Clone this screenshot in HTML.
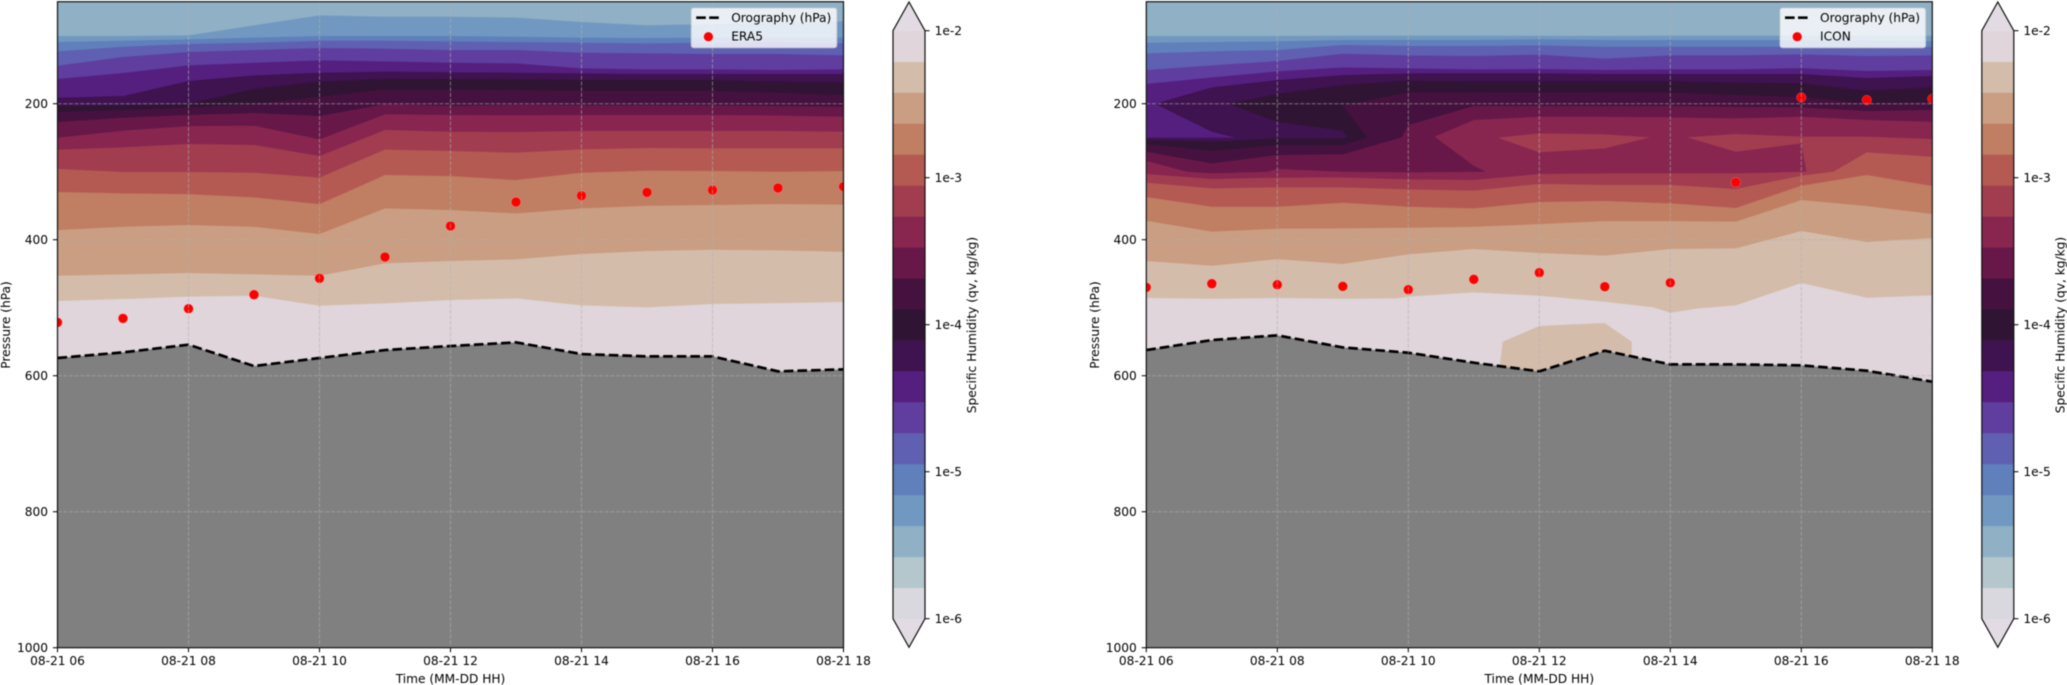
<!DOCTYPE html>
<html lang="en">
<head>
<meta charset="utf-8">
<title>Specific humidity cross-sections: ERA5 and ICON</title>
<style>
html,body{margin:0;padding:0;background:#fff;overflow:hidden;}
svg{display:block;font-family:"DejaVu Sans","Liberation Sans",sans-serif;filter:blur(0.45px);}
</style>
</head>
<body>
<svg id="figure" xmlns="http://www.w3.org/2000/svg" width="2067" height="685" viewBox="0 0 2067 685"></svg>
<script>
// ---------- shared chart values ----------
const xTickHours = [6, 8, 10, 12, 14, 16, 18];
const xTickLabels = ['08-21 06', '08-21 08', '08-21 10', '08-21 12', '08-21 14', '08-21 16', '08-21 18'];
const yTickValues = [200, 400, 600, 800, 1000];
const cbTickLabels = ['1e-6', '1e-5', '1e-4', '1e-3', '1e-2'];
const bandColors = ['#d9d8de', '#b3c7cd', '#8fb0c5', '#7198c0', '#5f80bb', '#5f60b2', '#5f3e9f', '#551f80', '#3f1250', '#2f1433', '#45113e', '#681848', '#88264f', '#a23d50', '#b45a52', '#c07e62', '#c99e82', '#d4bcab', '#dfd5da'];
const hours = [6, 7, 8, 9, 10, 11, 12, 13, 14, 15, 16, 17, 18];

// ---------- ERA5: pressure (hPa) of each contour boundary per hour, top of atmosphere downward ----------
const era5Boundary03 = [100.5, 100.5, 99.5, 84.8, 70.1, 72.1, 72.1, 73.5, 79.9, 84.8, 82.8, 80.9, 78.9];
const era5Boundary04 = [109.3, 107.4, 105.4, 102.9, 100.5, 100.5, 100.5, 101.5, 102.9, 103.4, 102.9, 102.9, 102.9];
const era5Boundary05 = [123, 116.2, 112.3, 110.3, 107.4, 107.4, 108.3, 109.3, 110.3, 111.3, 110.3, 109.3, 111.3];
const era5Boundary06 = [144.1, 131.4, 124, 121.1, 118.1, 119.1, 121.1, 121.1, 125, 126, 127, 127, 128.9];
const era5Boundary07 = [163.7, 154.9, 143.6, 139.7, 136.3, 137.8, 139.7, 140.7, 148, 149.5, 149.5, 150.5, 149.5];
const era5Boundary08 = [191.2, 188.7, 166.7, 158.3, 154.4, 152.9, 153.9, 154.4, 155.4, 156.4, 156.4, 156.4, 156.4];
const era5Boundary09 = [203.4, 202.5, 200.5, 178.4, 167.6, 163.7, 163.7, 164.2, 165.2, 165.2, 165.2, 167.6, 168.6];
const era5Boundary10 = [211.8, 209.3, 205.4, 200.5, 189.7, 178.9, 178.9, 179.9, 180.9, 180.9, 180.9, 183.8, 187.3];
const era5Boundary11 = [227, 220.6, 216.7, 213.7, 218.1, 200.5, 203.4, 201.5, 202.5, 202.5, 202.5, 203.4, 204.4];
const era5Boundary12 = [250, 239.7, 232.9, 232.4, 252.5, 215.7, 216.7, 217.2, 216.7, 216.7, 216.7, 217.6, 219.1];
const era5Boundary13 = [267.6, 264.2, 259.3, 260.8, 277, 238.7, 241.2, 241.7, 240.2, 240.2, 240.2, 240.2, 241.2];
const era5Boundary14 = [296.1, 300.5, 300.5, 301.5, 308.8, 267.6, 269.6, 272.1, 267.2, 265.2, 265.7, 265.7, 265.7];
const era5Boundary15 = [329.9, 331.9, 332.9, 337.8, 347.6, 304.9, 306.4, 312.3, 301.5, 298.5, 299, 300, 299];
const era5Boundary16 = [385.8, 380.9, 378.4, 380.9, 391.7, 353.9, 356.4, 361.3, 353.9, 350, 349, 347.5, 348.5];
const era5Boundary17 = [453, 451, 449, 451, 453, 434.8, 431.4, 428.9, 421.1, 416.7, 414.7, 415.7, 417.7];
const era5Boundary18 = [490.2, 487.3, 483.8, 482.4, 497.1, 493.6, 488.7, 486.3, 496.6, 499.5, 494.6, 493.2, 491.7];
const era5Orography = [574, 565.7, 554.4, 585.8, 574, 562.3, 556.4, 551, 568.2, 571.6, 571.6, 593.6, 590.7];
const era5Tropopause = [521.6, 515.7, 501.5, 480.9, 456.9, 425.5, 379.9, 344.6, 335.3, 330.4, 327, 324, 322];

// ---------- ICON: contour boundaries; irregular ones keep their own hour arrays ----------
const iconBoundary03 = [100.5, 100.5, 100.5, 100, 100, 100, 100, 100.5, 100, 100, 100, 100, 100];
const iconBoundary04 = [110.3, 109.3, 108.3, 106.4, 106.4, 106.4, 105.4, 106.4, 106.4, 106.4, 106.4, 106.4, 108.3];
const iconBoundary05 = [126, 123, 121.1, 113.7, 115.2, 115.2, 114.2, 116.2, 116.2, 116.2, 116.2, 117.7, 116.7];
const iconBoundary06 = [150.5, 143.6, 137.3, 126.5, 128.9, 129.9, 127.9, 133.8, 128.9, 128.9, 127.4, 129.9, 128.9];
const iconBoundary07 = [171.1, 161.3, 152.5, 146.6, 148, 149.5, 149, 150.5, 149.5, 149.5, 147.6, 152, 150.5];

const iconHours08 = [6, 7.36, 7, 6.13, 7, 8, 9, 10, 11, 12, 13, 14, 15, 16, 17, 18];
const iconPress08 = [250, 250, 241.2, 200, 176, 165.2, 157.9, 155.4, 155.4, 155.4, 156.4, 156.4, 156.4, 156.4, 162.3, 159.3];
const iconHours09 = [6, 7, 8, 9, 9.07, 9, 8, 7.25, 8, 9, 10, 11, 12, 13, 14, 15, 16, 17, 18];
const iconPress09 = [253.4, 255.9, 251, 251, 249.5, 239.7, 226.5, 200, 185.8, 172.6, 166.2, 167.2, 167.6, 167.6, 167.2, 169.1, 170.1, 180.9, 176];
const iconHours10 = [6, 7, 8, 9, 9.37, 9, 9.4, 10, 11, 12, 13, 14, 15, 16, 17, 18];
const iconPress10 = [259.3, 269.1, 260.8, 260.8, 249.5, 203.4, 194.6, 183.3, 183.3, 183.8, 183.3, 183.3, 187.3, 189.7, 200.5, 197.1];
const iconHours11 = [6, 7, 8, 9, 9.9, 10, 11, 12, 13, 14, 15, 16, 17, 18];
const iconPress11 = [270.6, 287.8, 275.5, 274.5, 249.5, 231.4, 203.4, 203.4, 203.4, 203.4, 204.4, 205.4, 210.8, 209.3];
const iconHours12 = [6, 6.62, 7, 7.85, 8, 9, 10, 11.18, 11, 10.4, 11, 12, 13, 14, 15, 16, 17, 18];
const iconPress12 = [284.3, 300, 302.5, 300, 296.1, 300, 301, 300, 291.2, 248.5, 224, 219.1, 219.1, 220.1, 221.6, 219.1, 224, 226.5];
const iconHours13 = [6, 7, 8, 9, 10, 11, 12, 13, 14, 15, 16.08, 16, 15, 14.26, 15, 16, 17, 18];
const iconPress13 = [303.4, 310.8, 308.8, 308.3, 311.3, 312.3, 303.4, 302.5, 302.5, 302.5, 300, 258.3, 270.6, 249.5, 244.6, 248.5, 248.5, 252];
const iconPatch13Hours = [11.37, 12, 13, 13.69, 13, 12];
const iconPatch13Press = [250, 243.6, 245.1, 249.5, 265.7, 271.6];
const iconHours14 = [6, 7, 8, 9, 10, 11, 12, 13, 14, 15, 16, 16.49, 17, 18];
const iconPress14 = [316.2, 324.5, 323, 323, 326, 327.9, 318.1, 319.6, 319.6, 325.5, 305.9, 300, 271.6, 278];
const iconBoundary15 = [337.3, 351.5, 351.5, 345.6, 351.5, 353.9, 344.6, 343.1, 346.6, 353.4, 320.6, 304.9, 321.1];
const iconBoundary16 = [372.1, 388.2, 383.8, 383.3, 382.4, 380.9, 377, 372.6, 372.6, 373.5, 341.7, 350.5, 362.2];
const iconBoundary17 = [431.4, 438.3, 428.5, 435.8, 421.6, 413.7, 419.6, 423.5, 413.7, 412.8, 387.3, 403.4, 397.6];
const iconHours18 = [6, 7, 8, 9, 9.82, 10, 11, 12, 13, 13.74, 14, 14.43, 15, 16, 17, 18];
const iconPress18 = [485.8, 486.8, 485.8, 486.8, 486.3, 483.8, 477.5, 482.4, 491.2, 499.5, 507.4, 501, 496.6, 463.7, 485.3, 481.9];
const iconPatch17Hours = [11.44, 11.4, 12, 13, 13.41, 13.41, 13, 12.77, 12];
const iconPatch17Press = [550, 584.3, 601.5, 574.5, 568.2, 550, 522.6, 523.5, 527];
const iconOrography = [562.3, 547.6, 540.7, 558.4, 566.2, 580.9, 593.6, 563.3, 583.4, 583.4, 584.8, 592.7, 608.8];
const iconTropopause = [470.1, 464.7, 466.2, 468.6, 473.5, 458.3, 448.5, 469.1, 463.3, 315.7, 190.7, 194.6, 192.7];

// ---------- helpers ----------
const NS = 'http://www.w3.org/2000/svg';
const figure = document.getElementById('figure');
function make(tag, attrs, parent) {
  const el = document.createElementNS(NS, tag);
  for (const k in attrs) el.setAttribute(k, attrs[k]);
  parent.appendChild(el);
  return el;
}
function label(parent, name, content, attrs) {
  const el = make('text', attrs, parent);
  
  
  el.textContent = content;
  return el;
}
function group(parent, name) {
  const el = make('g', {}, parent);
  
  
  return el;
}

const AX_TOP_P = 50, AX_BOTTOM_P = 1000, HOUR_MIN = 6, HOUR_MAX = 18;
const PX_PER_HOUR = 65.5, PX_PER_HPA = 0.68, Y_AT_200 = 103.7;
const yScale = p => Y_AT_200 + (p - 200) * PX_PER_HPA;
const CB_TICK_BOTTOM = 618.7, CB_BAND_H = 30.95, CB_DECADE = 147;

function drawPanel(id, x0, cbX0, layers, patches, orography, dots, seriesName) {
  const xScale = h => x0 + (h - HOUR_MIN) * PX_PER_HOUR;
  const plotW = xScale(HOUR_MAX) - xScale(HOUR_MIN);
  const top = yScale(AX_TOP_P), bottom = yScale(AX_BOTTOM_P);
  const panel = group(figure, id + '-panel');

  const clip = make('clipPath', { id: 'clip-' + id }, panel);
  make('rect', { x: x0, y: top, width: plotW, height: bottom - top }, clip);
  const plot = make('g', { 'clip-path': 'url(#clip-' + id + ')' }, panel);
  
  

  const bg = make('rect', { x: x0, y: top, width: plotW, height: bottom - top, fill: bandColors[2] }, plot);
  
  

  const pts = (hs, ps) => hs.map((h, i) => xScale(h).toFixed(2) + ',' + yScale(ps[i]).toFixed(2));
  layers.forEach(layer => {
    const line = pts(layer.h, layer.p);
    const first = layer.h[0], last = layer.h[layer.h.length - 1];
    line.push(xScale(last).toFixed(2) + ',' + bottom, xScale(first).toFixed(2) + ',' + bottom);
    const poly = make('polygon', { points: line.join(' '), fill: bandColors[layer.band] }, plot);
    
    
    (patches[layer.band] || []).forEach(patch => {
      const pp = make('polygon', { points: pts(patch.h, patch.p).join(' '), fill: bandColors[patch.band] }, plot);
      
      
    });
  });

  // orography
  const oroLine = pts(hours, orography);
  const oroFill = make('polygon', { points: oroLine.concat([xScale(HOUR_MAX) + ',' + bottom, xScale(HOUR_MIN) + ',' + bottom]).join(' '), fill: '#808080' }, plot);
  
  
  const oroStroke = make('polyline', { points: oroLine.join(' '), fill: 'none', stroke: '#000', 'stroke-width': 2.7, 'stroke-dasharray': '9.6 4' }, plot);
  
  

  // tropopause dots
  dots.forEach((p, i) => {
    const c = make('circle', { cx: xScale(hours[i]), cy: yScale(p), r: 4.8, fill: '#ff0000', stroke: '#fff', 'stroke-opacity': 0.35, 'stroke-width': 0.5 }, plot);
    
    
  });

  // grid
  const grid = group(plot, id + '-grid');
  xTickHours.forEach(h => {
    const l = make('line', { x1: xScale(h), x2: xScale(h), y1: top, y2: bottom, stroke: '#b0b0b0', 'stroke-opacity': 0.6, 'stroke-width': 1, 'stroke-dasharray': '4 1.7' }, grid);
    
    
  });
  yTickValues.forEach(p => {
    const l = make('line', { x1: x0, x2: x0 + plotW, y1: yScale(p), y2: yScale(p), stroke: '#b0b0b0', 'stroke-opacity': 0.6, 'stroke-width': 1, 'stroke-dasharray': '4 1.7' }, grid);
    
    
  });

  // frame
  const frame = make('rect', { x: x0, y: top, width: plotW, height: bottom - top, fill: 'none', stroke: '#111', 'stroke-width': 1.2 }, panel);
  
  

  // ticks
  xTickHours.forEach((h, i) => {
    const t = make('line', { x1: xScale(h), x2: xScale(h), y1: bottom, y2: bottom + 4.6, stroke: '#000', 'stroke-width': 1 }, panel);
    
    
    label(panel, 'x-tick-label', xTickLabels[i], { x: xScale(h), y: 665, 'text-anchor': 'middle', 'font-size': 12.2, fill: '#000' });
  });
  yTickValues.forEach(p => {
    const t = make('line', { x1: x0 - 4.6, x2: x0, y1: yScale(p), y2: yScale(p), stroke: '#000', 'stroke-width': 1 }, panel);
    
    
    label(panel, 'y-tick-label', String(p), { x: x0 - 9.5, y: yScale(p) + 4.4, 'text-anchor': 'end', 'font-size': 12.2, fill: '#000' });
  });
  label(panel, 'x-axis-title', 'Time (MM-DD HH)', { x: x0 + plotW / 2, y: 683, 'text-anchor': 'middle', 'font-size': 12.2, fill: '#000' });
  const yLabelX = x0 - 47.5, yLabelY = 325;
  label(panel, 'y-axis-title', 'Pressure (hPa)', { x: yLabelX, y: yLabelY, 'text-anchor': 'middle', 'font-size': 12.2, fill: '#000', transform: 'rotate(-90 ' + yLabelX + ' ' + yLabelY + ')' });

  // legend
  const legend = group(panel, id + '-legend');
  const lx = x0 + plotW - 152.3;
  const box = make('rect', { x: lx, y: 8, width: 145.6, height: 39.7, rx: 2.5, ry: 2.5, fill: '#fff', 'fill-opacity': 0.8, stroke: '#ccc', 'stroke-opacity': 0.8, 'stroke-width': 1 }, legend);
  
  
  const key = make('line', { x1: lx + 5, x2: lx + 27.6, y1: 17.7, y2: 17.7, stroke: '#000', 'stroke-width': 2.7, 'stroke-dasharray': '9.6 3.4' }, legend);
  
  
  const keyDot = make('circle', { cx: lx + 17.2, cy: 36.7, r: 4.6, fill: '#ff0000' }, legend);
  
  
  label(legend, 'legend-orography-label', 'Orography (hPa)', { x: lx + 40, y: 22.2, 'font-size': 12.2, fill: '#000' });
  label(legend, 'legend-series-label', seriesName, { x: lx + 40, y: 40.6, 'font-size': 12.2, fill: '#000' });

  // colorbar
  const cb = group(panel, id + '-colorbar');
  const cbW = 32, cbR = cbX0 + cbW, cbMid = cbX0 + cbW / 2;
  const bandTop = i => CB_TICK_BOTTOM - CB_BAND_H * (i + 1);
  const tipTopY = 2, tipBottomY = 647.3;
  const upper = bandTop(bandColors.length - 1);
  const tipTop = make('polygon', { points: cbX0 + ',' + upper + ' ' + cbMid + ',' + tipTopY + ' ' + cbR + ',' + upper, fill: '#e3dbe4' }, cb);
  
  
  const tipBottom = make('polygon', { points: cbX0 + ',' + CB_TICK_BOTTOM + ' ' + cbMid + ',' + tipBottomY + ' ' + cbR + ',' + CB_TICK_BOTTOM, fill: '#e3dbe4' }, cb);
  
  
  bandColors.forEach((c, i) => {
    const r = make('rect', { x: cbX0, y: bandTop(i), width: cbW, height: CB_BAND_H + 0.3, fill: c }, cb);
    
    
  });
  const outline = make('polygon', { points: [cbX0 + ',' + upper, cbMid + ',' + tipTopY, cbR + ',' + upper, cbR + ',' + CB_TICK_BOTTOM, cbMid + ',' + tipBottomY, cbX0 + ',' + CB_TICK_BOTTOM].join(' '), fill: 'none', stroke: '#111', 'stroke-width': 1.2 }, cb);
  
  
  cbTickLabels.forEach((t, i) => {
    const y = CB_TICK_BOTTOM - CB_DECADE * i;
    const tk = make('line', { x1: cbR, x2: cbR + 4.6, y1: y, y2: y, stroke: '#000', 'stroke-width': 1 }, cb);
    
    
    label(cb, 'colorbar-tick-label', t, { x: cbR + 9.6, y: y + 4.4, 'font-size': 12.2, fill: '#000' });
  });
  const cbLabelX = cbX0 + 82.8, cbLabelY = 325;
  label(cb, 'colorbar-title', 'Specific Humidity (qv, kg/kg)', { x: cbLabelX, y: cbLabelY, 'text-anchor': 'middle', 'font-size': 12.2, fill: '#000', transform: 'rotate(-90 ' + cbLabelX + ' ' + cbLabelY + ')' });
}

// ---------- build panels ----------
const era5Layers = [
  { band: 3, h: hours, p: era5Boundary03 }, { band: 4, h: hours, p: era5Boundary04 },
  { band: 5, h: hours, p: era5Boundary05 }, { band: 6, h: hours, p: era5Boundary06 },
  { band: 7, h: hours, p: era5Boundary07 }, { band: 8, h: hours, p: era5Boundary08 },
  { band: 9, h: hours, p: era5Boundary09 }, { band: 10, h: hours, p: era5Boundary10 },
  { band: 11, h: hours, p: era5Boundary11 }, { band: 12, h: hours, p: era5Boundary12 },
  { band: 13, h: hours, p: era5Boundary13 }, { band: 14, h: hours, p: era5Boundary14 },
  { band: 15, h: hours, p: era5Boundary15 }, { band: 16, h: hours, p: era5Boundary16 },
  { band: 17, h: hours, p: era5Boundary17 }, { band: 18, h: hours, p: era5Boundary18 }
];
const iconLayers = [
  { band: 3, h: hours, p: iconBoundary03 }, { band: 4, h: hours, p: iconBoundary04 },
  { band: 5, h: hours, p: iconBoundary05 }, { band: 6, h: hours, p: iconBoundary06 },
  { band: 7, h: hours, p: iconBoundary07 }, { band: 8, h: iconHours08, p: iconPress08 },
  { band: 9, h: iconHours09, p: iconPress09 }, { band: 10, h: iconHours10, p: iconPress10 },
  { band: 11, h: iconHours11, p: iconPress11 }, { band: 12, h: iconHours12, p: iconPress12 },
  { band: 13, h: iconHours13, p: iconPress13 }, { band: 14, h: iconHours14, p: iconPress14 },
  { band: 15, h: hours, p: iconBoundary15 }, { band: 16, h: hours, p: iconBoundary16 },
  { band: 17, h: hours, p: iconBoundary17 }, { band: 18, h: iconHours18, p: iconPress18 }
];
const iconPatches = {
  13: [{ band: 13, h: iconPatch13Hours, p: iconPatch13Press }],
  18: [{ band: 17, h: iconPatch17Hours, p: iconPatch17Press }]
};
drawPanel('era5', 57.5, 893, era5Layers, {}, era5Orography, era5Tropopause, 'ERA5');
drawPanel('icon', 1146.3, 1981.8, iconLayers, iconPatches, iconOrography, iconTropopause, 'ICON');
</script>
</body>
</html>
